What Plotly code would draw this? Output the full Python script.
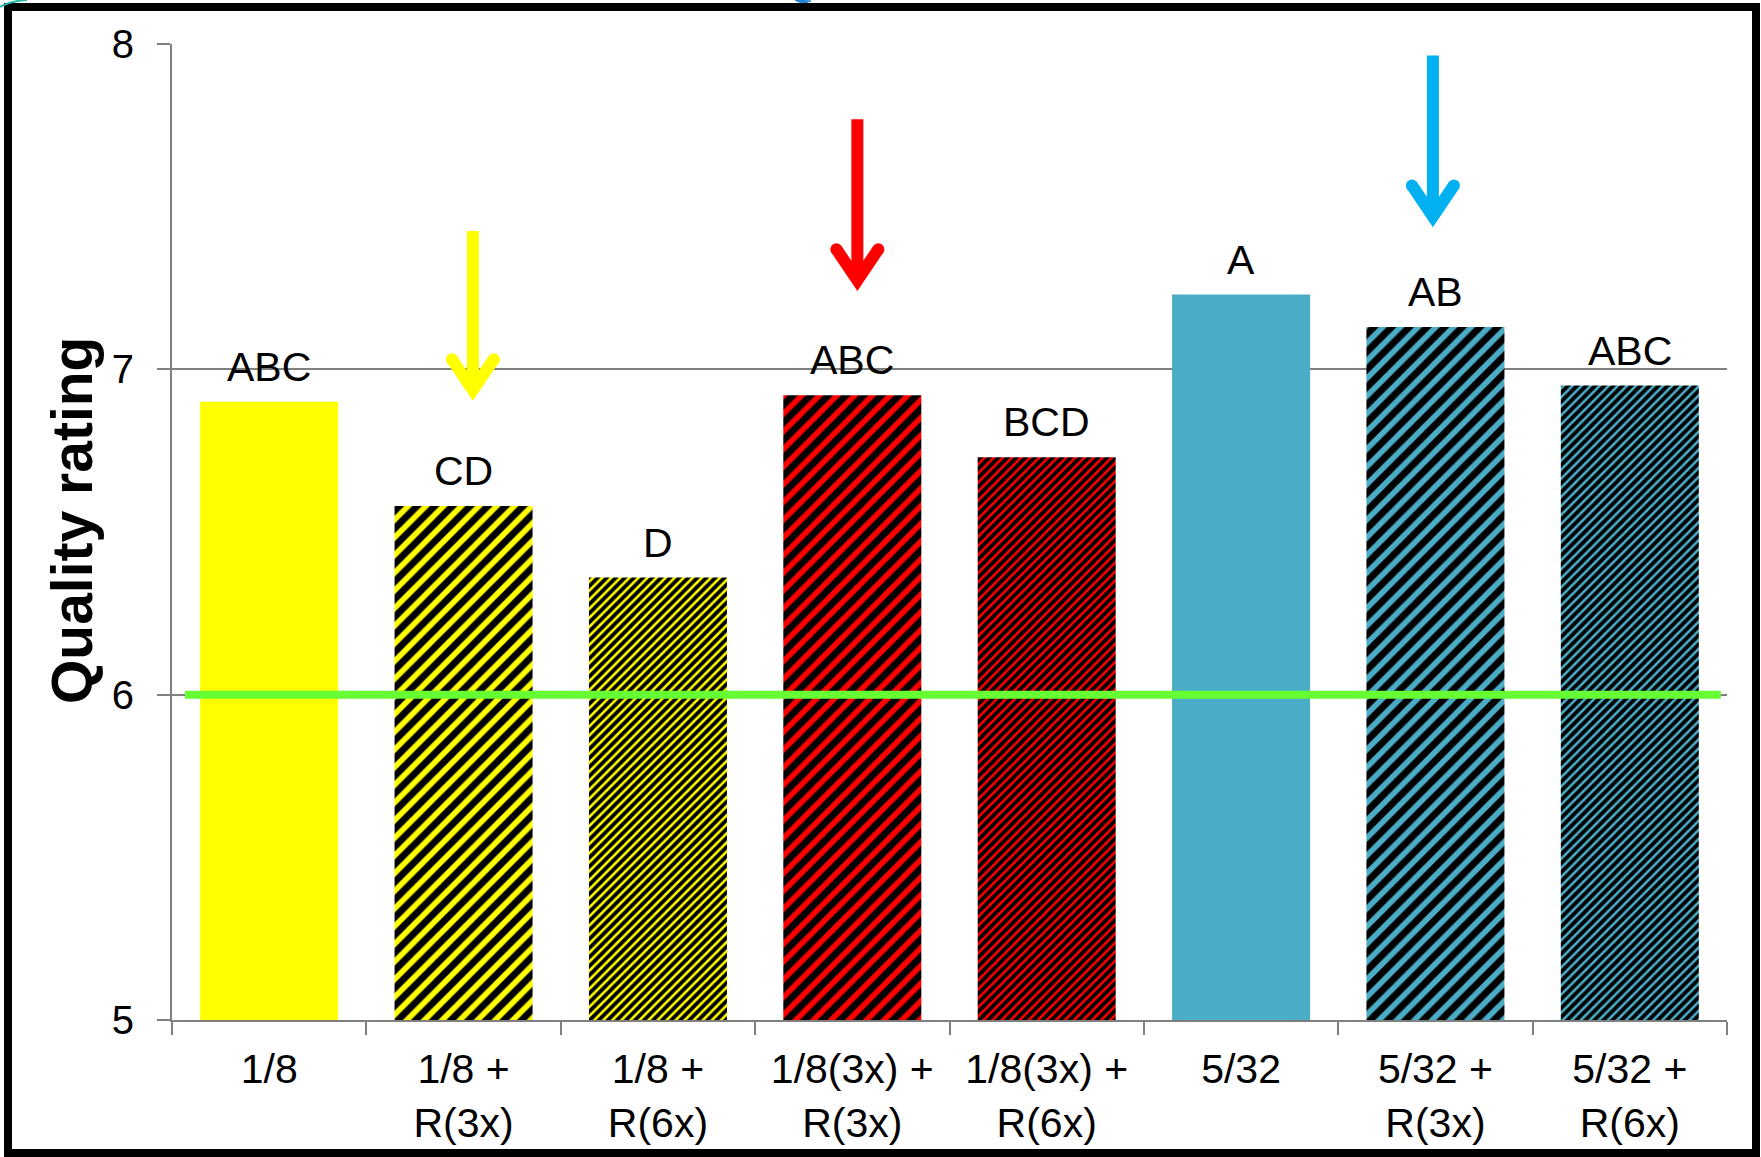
import plotly.graph_objects as go

# ---------------- data ----------------
categories = ["1/8", "1/8 +<br>R(3x)", "1/8 +<br>R(6x)", "1/8(3x) +<br>R(3x)",
              "1/8(3x) +<br>R(6x)", "5/32", "5/32 +<br>R(3x)", "5/32 +<br>R(6x)"]
quality = [6.90, 6.58, 6.36, 6.92, 6.73, 7.23, 7.13, 6.95]
letters = ["ABC", "CD", "D", "ABC", "BCD", "A", "AB", "ABC"]
bar_colors = ["#FFFF00", "#FFFF00", "#FFFF00", "#FF0000", "#FF0000", "#4BACC6", "#4BACC6", "#4BACC6"]
stripe_kind = ["none", "wide", "fine", "wide", "fine", "none", "wide", "fine"]

threshold = 6.0

# arrows: category position, top value, chevron-vertex value, colour
arrow_x = [1.048, 3.026, 5.987]
arrow_top = [7.425, 7.769, 7.965]
arrow_tip = [6.936, 7.274, 7.470]
arrow_colors = ["#FFFF00", "#FF0000", "#00B0F0"]

y_ticks = [5, 6, 7, 8]
y_title = "Quality rating"

# ---------------- layout constants ----------------
W_FIG, H_FIG = 1761, 1157
L, R, T, B = 172, 34, 44, 137
PW, PH = W_FIG - L - R, H_FIG - T - B
FONT = "Arial, Liberation Sans, sans-serif"


def pxx(x):
    return (x - L) / PW


def pxy(y):
    return (T + PH - y) / PH


pat_shape = {"none": "", "wide": "/", "fine": "/"}
pat_size = {"none": 8, "wide": 12.5, "fine": 6.4}
pat_sol = {"none": 0.3, "wide": 0.55, "fine": 0.6}

fig = go.Figure()
for cat, val, col, kind in zip(categories, quality, bar_colors, stripe_kind):
    fig.add_trace(go.Bar(
        x=[cat],
        y=[val],
        base=0,
        width=0.71,
        marker=dict(
            color=col,
            line=dict(width=0),
            pattern=dict(
                shape=pat_shape[kind],
                size=pat_size[kind],
                solidity=pat_sol[kind],
                fgcolor="#000000",
                fgopacity=1,
                bgcolor=col,
                fillmode="replace",
            ),
        ),
        hoverinfo="skip",
        showlegend=False,
    ))

# significance letters above bars
for i, (v, t) in enumerate(zip(quality, letters)):
    fig.add_annotation(x=i, y=v, text=t, showarrow=False, xref="x", yref="y",
                       yanchor="middle", yshift=35,
                       font=dict(size=41, color="#000000", family=FONT))

# y-axis title
fig.add_annotation(x=pxx(72), y=pxy(521), xref="paper", yref="paper",
                   text=f"<b>{y_title}</b>", textangle=-90, showarrow=False,
                   xanchor="center", yanchor="middle",
                   font=dict(size=57, color="#000000", family=FONT))

shapes = []
# green threshold line
shapes.append(dict(type="line", xref="x", yref="y", x0=-0.433, x1=7.468,
                   y0=threshold, y1=threshold,
                   line=dict(color="#66FF33", width=8), layer="above"))

# arrows
hw = 21 / (PW / len(categories))   # half-width of chevron in category units
hh = 31 / (PH / 3.0)                # chevron arm height in value units
for ax, yt, yv, c in zip(arrow_x, arrow_top, arrow_tip, arrow_colors):
    shapes.append(dict(type="line", xref="x", yref="y", x0=ax, x1=ax, y0=yt, y1=yv,
                       line=dict(color=c, width=12), layer="above"))
    shapes.append(dict(type="path", xref="x", yref="y",
                       path=f"M {ax - hw},{yv + hh} L {ax},{yv} L {ax + hw},{yv + hh}",
                       line=dict(color=c, width=12), layer="above"))
    # rounded arm ends
    for sx in (-hw, hw):
        shapes.append(dict(type="circle", xref="x", yref="y",
                           x0=ax + sx - 6 / (PW / 8), x1=ax + sx + 6 / (PW / 8),
                           y0=yv + hh - 6 / (PH / 3), y1=yv + hh + 6 / (PH / 3),
                           fillcolor=c, line=dict(width=0), layer="above"))

# black frame around the slide graphic
shapes.append(dict(type="rect", xref="paper", yref="paper",
                   x0=pxx(8), x1=pxx(1756), y0=pxy(1153), y1=pxy(7),
                   line=dict(color="#000000", width=8), fillcolor="rgba(0,0,0,0)",
                   layer="above"))
# small decorative remnants at top edge
shapes.append(dict(type="path", xref="paper", yref="paper",
                   path=f"M {pxx(0)},{pxy(7)} Q {pxx(10)},{pxy(1)} {pxx(27)},{pxy(0)}",
                   line=dict(color="#2BB5A5", width=2), layer="above"))
shapes.append(dict(type="path", xref="paper", yref="paper",
                   path=f"M {pxx(795)},{pxy(0)} Q {pxx(802)},{pxy(5)} {pxx(811)},{pxy(1)} Z",
                   fillcolor="#1F7FD0", line=dict(color="#1F7FD0", width=1), layer="above"))

fig.update_layout(
    width=W_FIG, height=H_FIG,
    margin=dict(l=L, r=R, t=T, b=B, pad=0),
    paper_bgcolor="#FFFFFF", plot_bgcolor="#FFFFFF",
    font=dict(family=FONT, color="#000000"),
    barmode="overlay",
    shapes=shapes,
    showlegend=False,
)
fig.update_xaxes(
    type="category",
    categoryorder="array", categoryarray=categories,
    tickson="boundaries",
    ticks="outside", ticklen=13, tickwidth=2, tickcolor="#808080",
    showline=True, linecolor="#808080", linewidth=2,
    showgrid=False,
    tickfont=dict(size=41, family=FONT, color="#000000"),
    ticklabelstandoff=12,
    range=[-0.5, 7.5],
)
fig.update_yaxes(
    range=[5, 8],
    tickvals=y_ticks,
    ticks="outside", ticklen=13, tickwidth=2, tickcolor="#808080",
    showline=True, linecolor="#808080", linewidth=2,
    showgrid=True, gridcolor="#808080", gridwidth=2,
    zeroline=False,
    tickfont=dict(size=40, family=FONT, color="#000000"),
    ticklabelstandoff=15,
)

fig.write_html("out.html", config={"displayModeBar": False},
               post_script="document.body.style.margin='0';document.body.style.overflow='hidden';")
